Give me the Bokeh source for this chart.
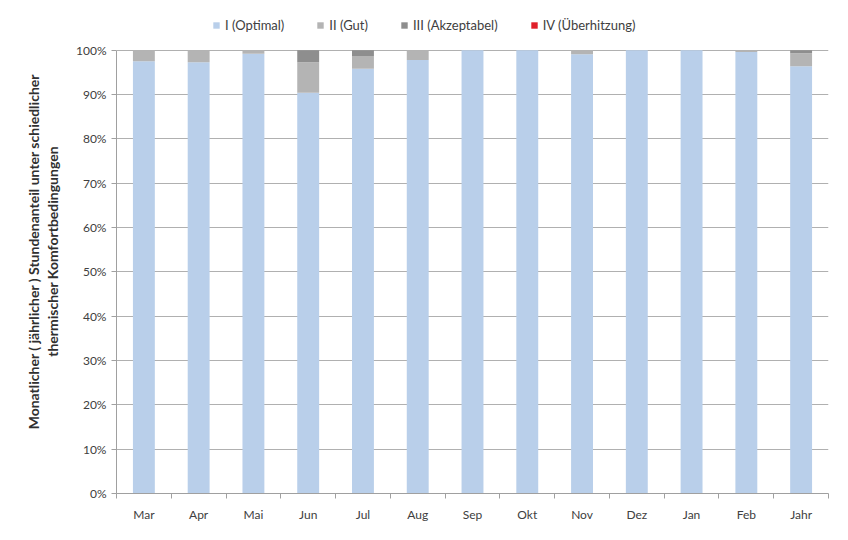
from bokeh.plotting import figure
from bokeh.models import ColumnDataSource, FixedTicker, Legend, LegendItem, NumeralTickFormatter, Range1d, Title
from bokeh.embed import file_html
from bokeh.resources import INLINE

months = ["Mar", "Apr", "Mai", "Jun", "Jul", "Aug", "Sep", "Okt", "Nov", "Dez", "Jan", "Feb", "Jahr"]
optimal = [97.5, 97.3, 99.2, 90.4, 95.8, 97.8, 100.0, 100.0, 99.1, 100.0, 100.0, 99.6, 96.4]
gut = [2.5, 2.7, 0.8, 6.9, 2.9, 2.2, 0.0, 0.0, 0.9, 0.0, 0.0, 0.4, 2.9]
akzeptabel = [0.0, 0.0, 0.0, 2.7, 1.3, 0.0, 0.0, 0.0, 0.0, 0.0, 0.0, 0.0, 0.7]
ueberhitzung = [0.0] * 13
series_names = ["I (Optimal)", "II (Gut)", "III (Akzeptabel)", "IV (Überhitzung)"]
colors = ["#b9cfea", "#b4b4b4", "#8e8e8e", "#e0202a"]
ylabel_lines = ["Monatlicher ( jährlicher ) Stundenanteil unter schiedlicher",
                "thermischer Komfortbedingungen"]

x = list(range(len(months)))
src = ColumnDataSource(dict(x=x, s0=[v / 100 for v in optimal], s1=[v / 100 for v in gut],
                            s2=[v / 100 for v in akzeptabel], s3=[v / 100 for v in ueberhitzung]))

FONT = "Lato"
W, H = 832, 524
BL, BR, BT, BB = 116, 4, 9, 28
frame_h = H - BT - BB
p = figure(width=W, height=H, output_backend="svg", toolbar_location=None,
           x_range=Range1d(-0.5, len(months) - 0.5), y_range=Range1d(0, frame_h / 446),
           min_border_left=BL, min_border_right=BR, min_border_top=BT, min_border_bottom=BB)
p.outline_line_color = None

renderers = p.vbar_stack(["s0", "s1", "s2", "s3"], x="x", width=0.4, source=src,
                         color=colors, line_color=None)

# axes
p.xaxis.ticker = FixedTicker(ticks=x, minor_ticks=[i - 0.5 for i in range(len(months) + 1)])
p.xaxis.major_label_overrides = {i: m for i, m in enumerate(months)}
p.xaxis.major_tick_line_color = None
p.xaxis.minor_tick_line_color = "#a0a0a0"
p.xaxis.minor_tick_out = 5
p.xaxis.minor_tick_in = 0
p.xaxis.axis_line_color = "#a0a0a0"
p.xaxis.major_label_text_font = FONT
p.xaxis.major_label_text_font_size = "12px"
p.xaxis.major_label_text_color = "#404040"
p.xaxis.major_label_standoff = 7

p.yaxis.ticker = FixedTicker(ticks=[i / 10 for i in range(11)], minor_ticks=[])
p.yaxis.bounds = (0, 1)
p.yaxis.formatter = NumeralTickFormatter(format="0%")
p.yaxis.axis_line_color = "#a0a0a0"
p.yaxis.major_tick_line_color = "#a0a0a0"
p.yaxis.major_tick_out = 5
p.yaxis.major_tick_in = 0
p.yaxis.major_label_text_font = FONT
p.yaxis.major_label_text_font_size = "12px"
p.yaxis.major_label_text_color = "#404040"
p.yaxis.axis_label = ylabel_lines[1]
p.yaxis.axis_label_text_font = FONT
p.yaxis.axis_label_text_font_size = "14px"
p.yaxis.axis_label_text_font_style = "bold"
p.yaxis.axis_label_text_color = "#303030"
p.yaxis.axis_label_standoff = 12

t = Title(text=ylabel_lines[0], align="center", text_font=FONT, text_font_size="14px",
          text_font_style="bold", text_color="#303030", standoff=0, offset=0)
p.add_layout(t, "left")

p.xgrid.grid_line_color = None
p.ygrid.grid_line_color = "#b0b0b0"
p.ygrid.grid_line_width = 1

legend = Legend(items=[LegendItem(label=n, renderers=[r]) for n, r in zip(series_names, renderers)],
                orientation="horizontal", location=(96, frame_h - 27))
legend.label_text_font = FONT
legend.label_text_font_size = "13px"
legend.label_text_color = "#404040"
legend.glyph_width = 8
legend.glyph_height = 8
legend.spacing = 32
legend.label_standoff = 5
legend.border_line_color = None
legend.background_fill_alpha = 0
legend.padding = 4
legend.margin = 0
p.add_layout(legend, "center")

open("out.html", "w").write(file_html(p, INLINE))
